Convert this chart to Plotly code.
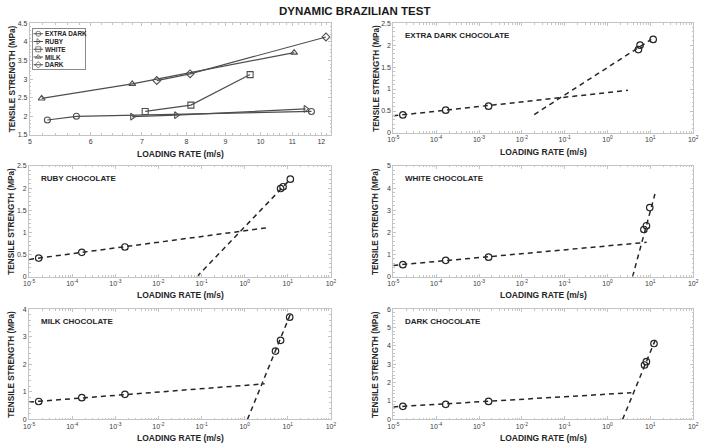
import numpy as np
import plotly.graph_objects as go

W, H = 709, 448

# ---------------- data ----------------
chocolates = ["EXTRA DARK", "RUBY", "WHITE", "MILK", "DARK"]
panel_titles = ["EXTRA DARK CHOCOLATE", "RUBY CHOCOLATE", "WHITE CHOCOLATE",
                "MILK CHOCOLATE", "DARK CHOCOLATE"]

# high loading-rate (split Hopkinson) points
hr_x_extra_dark = [5.27, 5.75, 11.65]
hr_y_extra_dark = [1.90, 2.00, 2.13]
hr_x_ruby = [6.80, 7.76, 11.45]
hr_y_ruby = [1.99, 2.03, 2.20]
hr_x_white = [7.07, 8.11, 9.69]
hr_y_white = [2.13, 2.30, 3.12]
hr_x_milk = [5.18, 6.80, 11.06]
hr_y_milk = [2.48, 2.87, 3.71]
hr_x_dark = [7.32, 8.09, 12.17]
hr_y_dark = [2.96, 3.14, 4.13]

# quasi-static loading rates
lr_x = [1.67e-5, 1.67e-4, 1.67e-3]
lr_y_extra_dark = [0.41, 0.52, 0.61]
lr_y_ruby = [0.42, 0.55, 0.67]
lr_y_white = [0.54, 0.74, 0.88]
lr_y_milk = [0.65, 0.79, 0.91]
lr_y_dark = [0.71, 0.82, 0.98]

# fitted trend lines (start/end loading rate, start/end strength)
fit_low_x0 = [1e-5, 1e-5, 1e-5, 1e-5, 1e-5]
fit_low_x1 = [3.0, 3.1, 8.2, 2.9, 3.6]
fit_low_y0 = [0.39, 0.39, 0.51, 0.63, 0.68]
fit_low_y1 = [0.97, 1.10, 1.55, 1.29, 1.45]
fit_high_x0 = [0.0195, 0.078, 3.85, 1.16, 2.25]
fit_high_x1 = [10.5, 11.5, 12.8, 11.9, 13.4]
fit_high_y0 = [0.42, 0.0, 0.0, 0.0, 0.0]
fit_high_y1 = [2.13, 2.20, 3.73, 3.88, 4.39]

y_max = [2.5, 2.5, 5, 4, 6]
y_dtick = [0.5, 0.5, 1, 1, 1]

top_left_xticks = [5, 6, 7, 8, 9, 10, 11, 12]
top_left_yticks = [1.5, 2, 2.5, 3, 3.5, 4, 4.5]
log_exponents = [-5, -4, -3, -2, -1, 0, 1, 2]

hr_x = [hr_x_extra_dark, hr_x_ruby, hr_x_white, hr_x_milk, hr_x_dark]
hr_y = [hr_y_extra_dark, hr_y_ruby, hr_y_white, hr_y_milk, hr_y_dark]
lr_y = [lr_y_extra_dark, lr_y_ruby, lr_y_white, lr_y_milk, lr_y_dark]
symbols = ["circle-open", "triangle-right-open", "square-open", "triangle-up-open", "diamond-open"]

# ---------------- layout helpers ----------------
FONT = "Liberation Sans, Arial, sans-serif"
AX_COL = "#c4c4c4"
TXT_COL = "#3a3a3a"
INK = "#262626"
SUM_COL = "#4e4e4e"

def px_x(a, b):
    return [a / W, b / W]

def px_y(top, bottom):
    return [1 - bottom / H, 1 - top / H]

# panel boxes in pixels: (left, right, top, bottom)
boxes = [
    (24.3, 331, 19.5, 133),   # top-left summary
    (394, 699, 19.5, 131),    # extra dark
    (23.5, 330.5, 164.5, 277),  # ruby
    (394, 699, 164.5, 277),   # white
    (23.5, 330.5, 310, 422),  # milk
    (394, 699, 310, 422),     # dark
]

fig = go.Figure()
layout = dict(
    width=W, height=H, margin=dict(l=0, r=0, t=0, b=0),
    paper_bgcolor="white", plot_bgcolor="white", showlegend=False,
    font=dict(family=FONT, color=TXT_COL, size=7),
)

def axis_common():
    return dict(showline=True, linecolor=AX_COL, linewidth=1, mirror="ticks",
                ticks="inside", ticklen=3, tickcolor=AX_COL, showgrid=False,
                zeroline=False, tickfont=dict(size=7, color=TXT_COL, family=FONT),
                fixedrange=True)

annotations = []

def ann(text, x, y, size, xanchor="center", angle=0, xref="paper", yref="paper", color=INK):
    return dict(text=text, x=x, y=y, xref=xref, yref=yref, showarrow=False,
                xanchor=xanchor, yanchor="middle", textangle=angle,
                font=dict(size=size, color=color, family=FONT))

for i, (l, r, t, b) in enumerate(boxes):
    k = i + 1
    xa = "xaxis" if k == 1 else f"xaxis{k}"
    ya = "yaxis" if k == 1 else f"yaxis{k}"
    xr = "x" if k == 1 else f"x{k}"
    yr = "y" if k == 1 else f"y{k}"
    xd = axis_common()
    yd = axis_common()
    xd.update(domain=px_x(l, r), anchor=yr, type="log")
    yd.update(domain=px_y(t, b), anchor=xr)
    if i == 0:
        xd.update(range=[np.log10(5), np.log10(12.37)], tickvals=top_left_xticks,
                  ticktext=[str(v) for v in top_left_xticks],
                  minor=dict(ticks="inside", ticklen=1.5, tickcolor=AX_COL,
                             tickvals=list(np.arange(5.2, 12.3, 0.2))))
        yd.update(range=[1.5, 4.5], tickvals=top_left_yticks,
                  ticktext=[("%g" % v) for v in top_left_yticks],
                  minor=dict(ticks="inside", ticklen=1.5, tickcolor=AX_COL, dtick=0.1))
    else:
        j = i - 1
        xd.update(range=[-5, 2], tickvals=[10.0 ** e for e in log_exponents],
                  ticktext=["10<sup>%d</sup>" % e for e in log_exponents],
                  minor=dict(ticks="inside", ticklen=1.5, tickcolor=AX_COL,
                             tickvals=[m * 10.0 ** e for e in log_exponents[:-1]
                                       for m in range(2, 10)]))
        yd.update(range=[0, y_max[j]], dtick=y_dtick[j],
                  minor=dict(ticks="inside", ticklen=1.5, tickcolor=AX_COL,
                             dtick=y_dtick[j] / 5))
    layout[xa] = xd
    layout[ya] = yd

    cx = (l + r) / 2
    annotations.append(ann("<b>LOADING RATE (m/s)</b>", cx / W, 1 - (b + 19) / H, 8.5))
    annotations.append(ann("<b>TENSILE STRENGTH (MPa)</b>", (l - 18) / W,
                           1 - ((t + b) / 2) / H, 8.2, angle=-90))
    if i > 0:
        annotations.append(ann("<b>%s</b>" % panel_titles[i - 1], (l + 10) / W,
                               1 - (t + 13) / H, 8, xanchor="left"))

# ---------------- top-left summary panel ----------------
for j in range(5):
    fig.add_trace(go.Scatter(x=hr_x[j], y=hr_y[j], mode="lines+markers", xaxis="x", yaxis="y",
                             line=dict(color=SUM_COL, width=1.2),
                             marker=dict(symbol=symbols[j], size=6, color=SUM_COL,
                                         line=dict(width=1.1, color=SUM_COL))))

# manual legend in its own small axis
legend_axis = dict(showline=True, mirror=True, linecolor="#8a8a8a", linewidth=1,
                   showticklabels=False, ticks="", showgrid=False, zeroline=False,
                   fixedrange=True)
layout["xaxis7"] = dict(domain=px_x(27, 80), anchor="y7", range=[0, 10], **legend_axis)
layout["yaxis7"] = dict(domain=px_y(25.5, 66.5), anchor="x7", range=[5.6, 0.4], **legend_axis)
layout["shapes"] = [dict(type="rect", xref="x7 domain", yref="y7 domain", x0=0, x1=1, y0=0, y1=1,
                         fillcolor="white", line=dict(width=0), layer="below")]
for j, name in enumerate(chocolates):
    fig.add_trace(go.Scatter(x=[0.2, 1.1, 2.0], y=[j + 1] * 3, mode="lines+markers",
                             xaxis="x7", yaxis="y7",
                             line=dict(color=SUM_COL, width=1.1),
                             marker=dict(symbol=symbols[j], size=[0, 5, 0], color=SUM_COL,
                                         line=dict(width=1, color=SUM_COL))))
    annotations.append(ann("<b>%s</b>" % name, 2.1, j + 1, 6.4, xanchor="left",
                           xref="x7", yref="y7"))

# ---------------- per-chocolate log panels ----------------
for j in range(5):
    k = j + 2
    xr, yr = f"x{k}", f"y{k}"
    lx = np.array([fit_low_x0[j], fit_low_x1[j]])
    ly = np.array([fit_low_y0[j], fit_low_y1[j]])
    hx = np.array([fit_high_x0[j], fit_high_x1[j]])
    hy = np.array([fit_high_y0[j], fit_high_y1[j]])
    for fx, fy in ((lx, ly), (hx, hy)):
        fig.add_trace(go.Scatter(x=fx, y=fy, mode="lines", xaxis=xr, yaxis=yr,
                                 line=dict(color=INK, width=1.5, dash="5px,4px")))
    fig.add_trace(go.Scatter(x=lr_x + hr_x[j], y=lr_y[j] + hr_y[j], mode="markers",
                             xaxis=xr, yaxis=yr,
                             marker=dict(symbol="circle-open", size=6.5, color=INK,
                                         line=dict(width=1.2, color=INK))))

annotations.append(ann("<b>DYNAMIC BRAZILIAN TEST</b>", 355 / W, 1 - 7 / H, 11.5,
                       color="#1a1a1a"))
layout["annotations"] = annotations
fig.update_layout(**layout)
fig.write_html("out.html")
